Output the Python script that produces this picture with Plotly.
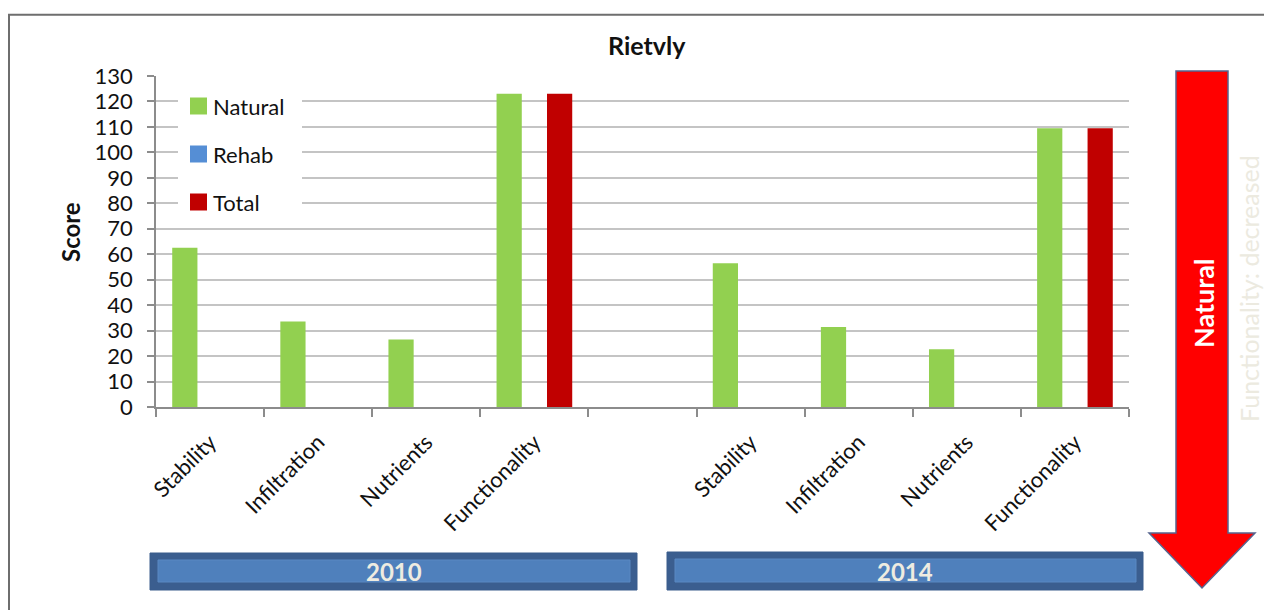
import plotly.graph_objects as go

# ---- data -------------------------------------------------------------
categories = ["Stability", "Infiltration", "Nutrients", "Functionality"]
years = ["2010", "2014"]

natural_2010 = [62.5, 33.6, 26.5, 123]
natural_2014 = [56.5, 31.4, 22.7, 109.5]
rehab_2010 = [0, 0, 0, 0]
rehab_2014 = [0, 0, 0, 0]
total_2010 = [None, None, None, 123]
total_2014 = [None, None, None, 109.5]

y_ticks = list(range(0, 131, 10))

# ---- canvas geometry --------------------------------------------------
W, H = 1264, 610
L, R, T, B = 156, 1129, 76, 407   # plot area in pixels

def px(x):
    return (x - L) / (R - L)

def py(y):
    return (B - y) / (B - T)

FONT = "Lato"

# slot positions: four categories, an empty slot, four categories
x_2010 = [0, 1, 2, 3]
x_2014 = [5, 6, 7, 8]
xs = x_2010 + x_2014

fig = go.Figure()
fig.add_trace(go.Bar(name="Natural", x=xs, y=natural_2010 + natural_2014,
                     marker=dict(color="#92D050", line=dict(width=0))))
fig.add_trace(go.Bar(name="Rehab", x=xs, y=rehab_2010 + rehab_2014,
                     marker=dict(color="#558ED5", line=dict(width=0))))
fig.add_trace(go.Bar(name="Total", x=xs, y=total_2010 + total_2014,
                     marker=dict(color="#C00000", line=dict(width=0))))

shapes = []
annotations = []

# outer chart frame
shapes.append(dict(type="rect", xref="paper", yref="paper",
                   x0=px(9), x1=px(1290), y0=py(14.7), y1=py(640),
                   line=dict(color="#6E6E6E", width=2), fillcolor="rgba(0,0,0,0)",
                   layer="below"))

# legend box
legend_items = [("Natural", "#92D050", 106), ("Rehab", "#558ED5", 154), ("Total", "#C00000", 202)]
shapes.append(dict(type="rect", xref="paper", yref="paper",
                   x0=px(178), x1=px(302), y0=py(84), y1=py(222),
                   line=dict(width=0), fillcolor="white", layer="above"))
for name, color, yc in legend_items:
    shapes.append(dict(type="rect", xref="paper", yref="paper",
                       x0=px(190), x1=px(207), y0=py(yc - 8.5), y1=py(yc + 8.5),
                       line=dict(width=0), fillcolor=color, layer="above"))
    annotations.append(dict(text=name, xref="paper", yref="paper",
                            x=px(211), y=py(yc), xanchor="left", yanchor="middle",
                            showarrow=False, font=dict(family=FONT, size=22, color="#111111")))

# year bands under the category labels
bands = [("2010", 150, 637, 553, 590), ("2014", 667, 1143, 552, 590)]
for label, x0, x1, y0, y1 in bands:
    shapes.append(dict(type="rect", xref="paper", yref="paper",
                       x0=px(x0), x1=px(x1), y0=py(y0), y1=py(y1),
                       line=dict(color="#3A5C8C", width=1), fillcolor="#3B5E8F"))
    shapes.append(dict(type="rect", xref="paper", yref="paper",
                       x0=px(x0 + 8), x1=px(x1 - 7), y0=py(y0 + 7), y1=py(y1 - 8),
                       line=dict(color="#5A88C2", width=1), fillcolor="#4F80BC"))
    annotations.append(dict(text="<b>%s</b>" % label, xref="paper", yref="paper",
                            x=px((x0 + x1) / 2), y=py(571), xanchor="center", yanchor="middle",
                            showarrow=False, font=dict(family=FONT, size=24, color="#EEECE1")))

# downward arrow on the right
arrow_pts = [(1176, 71), (1228, 71), (1228, 533), (1255, 533), (1202, 588),
             (1149, 533), (1176, 533)]
path = "M " + " L ".join("%.5f,%.5f" % (px(x), py(y)) for x, y in arrow_pts) + " Z"
shapes.append(dict(type="path", xref="paper", yref="paper", path=path,
                   fillcolor="#FF0000", line=dict(color="#56648E", width=1.5)))
annotations.append(dict(text="<b>Natural</b>", xref="paper", yref="paper",
                        x=px(1203), y=py(303), textangle=-90, xanchor="center", yanchor="middle",
                        showarrow=False, font=dict(family=FONT, size=27, color="#FFFFFF")))
annotations.append(dict(text="Functionality: decreased", xref="paper", yref="paper",
                        x=px(1249), y=py(289), textangle=-90, xanchor="center", yanchor="middle",
                        showarrow=False, font=dict(family=FONT, size=25, color="#ECEAE0")))

# title and axis title
annotations.append(dict(text="<b>Rietvly</b>", xref="paper", yref="paper",
                        x=px(647), y=py(45), xanchor="center", yanchor="middle",
                        showarrow=False, font=dict(family=FONT, size=25, color="#111111")))
annotations.append(dict(text="<b>Score</b>", xref="paper", yref="paper",
                        x=px(70), y=py(232), textangle=-90, xanchor="center", yanchor="middle",
                        showarrow=False, font=dict(family=FONT, size=24, color="#111111")))

fig.update_layout(
    width=W, height=H,
    margin=dict(l=L, r=W - R, t=T, b=H - B, pad=0),
    paper_bgcolor="white", plot_bgcolor="white",
    barmode="group", bargap=0.3, bargroupgap=0,
    showlegend=False,
    font=dict(family=FONT, color="#111111"),
    shapes=shapes, annotations=annotations,
)

fig.update_xaxes(
    range=[-0.5, 8.5], tickmode="array", tickvals=xs, ticktext=categories + categories,
    tickangle=-45, ticks="", tickfont=dict(family=FONT, size=22, color="#111111"),
    ticklabelstandoff=12,
    showline=True, linecolor="#8C8C8C", linewidth=1.5, showgrid=False, zeroline=False,
    minor=dict(tick0=-0.5, dtick=1, ticks="outside", ticklen=8, tickcolor="#8C8C8C",
               tickwidth=1.5, showgrid=False),
)
fig.update_yaxes(
    range=[0, 130], tickmode="array", tickvals=y_ticks,
    ticks="outside", ticklen=7, tickcolor="#8C8C8C", tickwidth=1.5,
    tickfont=dict(family=FONT, size=22, color="#111111"), ticklabelstandoff=10,
    showline=True, linecolor="#8C8C8C", linewidth=1.5,
    showgrid=True, gridcolor="#C4C4C4", gridwidth=1.6, zeroline=False,
)

fig.write_html("out.html")
